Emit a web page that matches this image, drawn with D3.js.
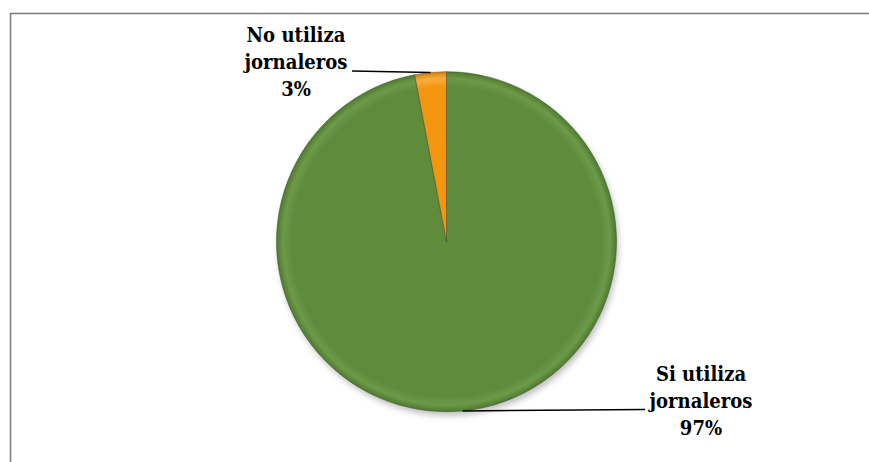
<!DOCTYPE html>
<html>
<head>
<meta charset="utf-8">
<script src="https://cdn.jsdelivr.net/npm/d3@7/dist/d3.min.js"></script>
<style>
  html, body { margin: 0; padding: 0; background: #ffffff; }
  svg { display: block; }
  .lbl { font-family: "DejaVu Serif", serif; font-weight: bold; }
</style>
</head>
<body>
<svg id="chart" width="869" height="462"></svg>
<script>
// Share of producers that hire day labourers
const categories = ["Si utiliza jornaleros", "No utiliza jornaleros"];
const values = [97, 3];
const labelLines = [["Si utiliza", "jornaleros", "97%"], ["No utiliza", "jornaleros", "3%"]];
const colors = ["#5f8c3b", "#f2960f"];
const edgeColors = ["#4e7a2e", "#d27e08"];
const lightColors = ["#6d9a48", "#f9ae3e"];

const svg = d3.select("#chart");
const cx = 446.5, cy = 241.7, R = 170;

// outer frame (right and bottom run past the page edge)
svg.append("rect")
  .attr("x", 10.5).attr("y", 13.5)
  .attr("width", 900).attr("height", 500)
  .attr("fill", "#ffffff")
  .attr("stroke", "#7f7f7f")
  .attr("stroke-width", 1.6);

const defs = svg.append("defs");

// soft drop shadow below the pie
const shadow = defs.append("filter").attr("id", "shadow")
  .attr("x", "-20%").attr("y", "-20%").attr("width", "140%").attr("height", "140%");
shadow.append("feGaussianBlur").attr("stdDeviation", 3);

// bevel-like radial shading for each slice colour (coordinates of the pie group)
colors.forEach((c, i) => {
  const gr = defs.append("radialGradient").attr("id", "grad" + i)
    .attr("gradientUnits", "userSpaceOnUse")
    .attr("cx", 0).attr("cy", 0).attr("r", R);
  gr.append("stop").attr("offset", "0%").attr("stop-color", c);
  gr.append("stop").attr("offset", "91%").attr("stop-color", c);
  gr.append("stop").attr("offset", "96%").attr("stop-color", lightColors[i]);
  gr.append("stop").attr("offset", "100%").attr("stop-color", edgeColors[i]);
});

const pie = d3.pie().sort(null).value(d => d)
  .startAngle(0).endAngle(2 * Math.PI);
const arcs = pie(values);

const arc = d3.arc().innerRadius(0).outerRadius(R);
const edgeArc = d3.arc().innerRadius(R).outerRadius(R);

const g = svg.append("g").attr("transform", `translate(${cx},${cy})`);

// shadow disc
g.append("circle")
  .attr("cx", 2).attr("cy", 4).attr("r", R)
  .attr("fill", "#000000").attr("opacity", 0.25)
  .attr("filter", "url(#shadow)");

g.selectAll("path.slice")
  .data(arcs)
  .join("path")
  .attr("class", "slice")
  .attr("d", arc)
  .attr("fill", (d, i) => `url(#grad${i})`)
  .attr("stroke", "#3d4a33")
  .attr("stroke-opacity", 0.5)
  .attr("stroke-width", 1);

// leader lines from the rim at each slice's middle angle to its label
const labelPos = [
  { x: 701, y: 381, lineEnd: 645 },
  { x: 296, y: 42, lineEnd: 352 }
];

arcs.forEach((d, i) => {
  const [ex, ey] = edgeArc.centroid(d);
  const lp = labelPos[i];
  svg.append("line")
    .attr("x1", cx + ex).attr("y1", cy + ey)
    .attr("x2", lp.lineEnd).attr("y2", cy + ey - 1.5)
    .attr("stroke", "#000000")
    .attr("stroke-width", 1.6);

  // labels set in a narrow bold serif
  const t = svg.append("g")
    .attr("transform", `translate(${lp.x},${lp.y}) scale(0.86,1)`)
    .append("text")
    .attr("class", "lbl")
    .attr("x", 0).attr("y", 0)
    .attr("text-anchor", "middle")
    .attr("font-size", 21)
    .attr("fill", "#000000");
  labelLines[i].forEach((s, k) => {
    t.append("tspan").attr("x", 0).attr("dy", k === 0 ? 0 : 26.8).text(s);
  });
});
</script>
</body>
</html>
